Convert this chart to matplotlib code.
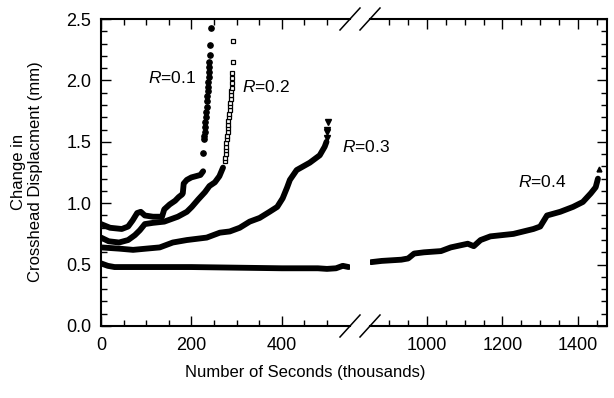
import matplotlib
matplotlib.use("Agg")
import matplotlib.pyplot as plt
from matplotlib.ticker import MultipleLocator, FixedLocator, FormatStrFormatter
from matplotlib.lines import Line2D

plt.rcParams['font.family'] = ['Liberation Sans', 'DejaVu Sans']
plt.rcParams['mathtext.fontset'] = 'custom'
plt.rcParams['mathtext.it'] = 'Liberation Sans:italic'
plt.rcParams['mathtext.rm'] = 'Liberation Sans'

# === Data (thousands of seconds, mm) ===
# R=0.1 : dense trace + sparse points near failure
r1_x = [0, 20, 46, 60, 70, 80, 88, 97, 115, 135, 140, 152, 164, 172, 179, 181,
        183, 190, 200, 210, 220, 226]
r1_y = [0.83, 0.80, 0.79, 0.81, 0.86, 0.92, 0.93, 0.90, 0.89, 0.89, 0.95, 0.99,
        1.02, 1.05, 1.07, 1.08, 1.16, 1.19, 1.21, 1.22, 1.23, 1.26]
r1_tip_x = [226, 228, 229, 229.5, 230, 231, 232, 233, 233.5, 234, 235, 236, 237,
            237.5, 238, 239, 239.5, 240, 241, 242, 244]
r1_tip_y = [1.41, 1.52, 1.55, 1.58, 1.62, 1.66, 1.70, 1.74, 1.78, 1.83, 1.87, 1.91,
            1.95, 1.99, 2.03, 2.07, 2.11, 2.15, 2.21, 2.29, 2.43]

# R=0.2
r2_x = [0, 17, 40, 60, 75, 86, 97, 115, 140, 170, 190, 201, 215, 230, 240, 252,
        262, 270]
r2_y = [0.72, 0.69, 0.68, 0.70, 0.74, 0.78, 0.83, 0.84, 0.85, 0.89, 0.93, 0.97,
        1.03, 1.09, 1.14, 1.17, 1.22, 1.29]
r2_tip_x = [274, 275, 275.5, 276, 277, 277.5, 278, 279, 280, 280.5, 281, 282, 283,
            284, 285, 285.5, 286, 287, 288, 288.5, 289, 289.5, 290, 290.5, 291, 292]
r2_tip_y = [1.34, 1.37, 1.40, 1.43, 1.46, 1.49, 1.52, 1.55, 1.58, 1.61, 1.64, 1.67,
            1.70, 1.73, 1.76, 1.79, 1.82, 1.85, 1.88, 1.91, 1.94, 1.98, 2.02, 2.06,
            2.15, 2.32]

# R=0.3
r3_x = [0, 40, 71, 100, 130, 159, 190, 234, 263, 285, 307, 329, 351, 373, 390,
        402, 412, 418, 433, 462, 484, 495, 499]
r3_y = [0.64, 0.63, 0.62, 0.63, 0.64, 0.68, 0.70, 0.72, 0.76, 0.77, 0.80, 0.85,
        0.88, 0.93, 0.97, 1.04, 1.13, 1.19, 1.27, 1.33, 1.39, 1.46, 1.50]
r3_tip_x = [500, 501, 501, 502]
r3_tip_y = [1.53, 1.58, 1.60, 1.66]

# R=0.4 (split by the axis break)
r4_left_x = [0, 15, 30, 100, 200, 300, 400, 480, 500, 520, 535, 548]
r4_left_y = [0.51, 0.49, 0.48, 0.48, 0.48, 0.475, 0.47, 0.47, 0.465, 0.47, 0.49, 0.48]
r4_right_x = [852, 880, 932, 950, 966, 992, 1037, 1063, 1108, 1124, 1142, 1168,
              1229, 1282, 1300, 1318, 1353, 1387, 1413, 1434, 1447, 1453]
r4_right_y = [0.52, 0.53, 0.54, 0.55, 0.59, 0.60, 0.61, 0.64, 0.67, 0.65, 0.70, 0.73,
              0.75, 0.79, 0.81, 0.90, 0.93, 0.97, 1.01, 1.08, 1.13, 1.20]
r4_tip_x = [1455]
r4_tip_y = [1.28]

left_major = [0, 200, 400]
left_minor = list(range(0, 501, 50))
right_major = [1000, 1200, 1400]
right_minor = list(range(900, 1451, 50))

# === Figure with broken x-axis ===
W, H = 614, 398
fig = plt.figure(figsize=(W / 100, H / 100), dpi=100)
ax1 = fig.add_axes([101 / W, 72 / H, 249 / W, 307 / H])
ax2 = fig.add_axes([370 / W, 72 / H, 237 / W, 307 / H], sharey=ax1)
# transparent backgrounds so the R=0.3 label can run past the break
ax1.patch.set_visible(False)
ax2.patch.set_visible(False)

trace = dict(color="black", lw=4.2, solid_capstyle="round", solid_joinstyle="round")
ax1.plot(r1_x, r1_y, **trace)
ax1.plot(r1_tip_x, r1_tip_y, "o", color="black", ms=3.8)
ax1.plot(r2_x, r2_y, **trace)
ax1.plot(r2_tip_x, r2_tip_y, "s", mfc="white", mec="black", mew=0.9, ms=3.4)
ax1.plot(r3_x, r3_y, **trace)
ax1.plot(r3_tip_x, r3_tip_y, "v", color="black", ms=4.5)
ax1.plot(r4_left_x, r4_left_y, **trace)
ax2.plot(r4_right_x, r4_right_y, **trace)
ax2.plot(r4_tip_x, r4_tip_y, "^", color="black", ms=3.5)

ax1.set_xlim(0, 551)
ax2.set_xlim(849, 1477)
ax1.set_ylim(0, 2.5)

ax1.xaxis.set_major_locator(FixedLocator(left_major))
ax1.xaxis.set_minor_locator(FixedLocator(left_minor))
ax2.xaxis.set_major_locator(FixedLocator(right_major))
ax2.xaxis.set_minor_locator(FixedLocator(right_minor))
ax1.yaxis.set_major_locator(MultipleLocator(0.5))
ax1.yaxis.set_minor_locator(MultipleLocator(0.1))
ax1.yaxis.set_major_formatter(FormatStrFormatter("%.1f"))

ax1.spines["right"].set_visible(False)
ax2.spines["left"].set_visible(False)
for ax in (ax1, ax2):
    for s in ax.spines.values():
        s.set_linewidth(1.5)
    ax.tick_params(which="both", direction="in", top=True, width=1.0,
                   labelsize=13, pad=8)
    ax.tick_params(which="major", length=7.5)
    ax.tick_params(which="minor", length=4.5)
ax1.tick_params(axis="y", which="both", left=True, right=False, pad=7)
ax2.tick_params(axis="y", which="both", left=False, right=True,
                labelleft=False, labelright=False)

# break marks
dx, dy = 10 / W, 11 / H
for xb in (350 / W, 370 / W):
    for yb in (72 / H, 379 / H):
        fig.add_artist(Line2D([xb - dx, xb + dx], [yb - dy, yb + dy],
                              color="black", lw=1.1))

# labels
ax1.text(104, 2.02, "$R$=0.1", ha="left", va="center", fontsize=12.5)
ax1.text(312, 1.95, "$R$=0.2", ha="left", va="center", fontsize=12.5)
ax1.text(533, 1.46, "$R$=0.3", ha="left", va="center", fontsize=12.5)
ax2.text(1241, 1.17, "$R$=0.4", ha="left", va="center", fontsize=12.5)

fig.text(305.5 / W, 1 - 373 / H, "Number of Seconds (thousands)",
         ha="center", va="center", fontsize=12)
fig.text(27 / W, 1 - 172 / H, "Change in\nCrosshead Displacment (mm)",
         rotation=90, ha="center", va="center", multialignment="center", fontsize=12)

fig.savefig("out.png", dpi=100)
print("✅ Chart saved to out.png")
